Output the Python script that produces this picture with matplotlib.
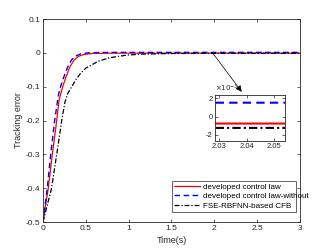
import matplotlib
matplotlib.use("Agg")
import matplotlib.pyplot as plt

plt.rcParams['font.family'] = ['Liberation Sans', 'DejaVu Sans']

# Data
t_red = [0, 0.03, 0.062, 0.085, 0.109, 0.135, 0.16, 0.187, 0.23, 0.27, 0.315, 0.36, 0.41, 0.47, 0.58, 0.8, 3.0]
e_red = [-0.5, -0.45, -0.4, -0.35, -0.3, -0.25, -0.2, -0.14, -0.1, -0.07, -0.041, -0.022, -0.011, -0.005, -0.0015, -0.0008, -0.00075]

t_blue = [0, 0.025, 0.05, 0.07, 0.09, 0.113, 0.136, 0.18, 0.205, 0.245, 0.29, 0.335, 0.385, 0.44, 0.52, 0.65, 0.9, 3.0]
e_blue = [-0.5, -0.45, -0.4, -0.35, -0.3, -0.25, -0.2, -0.125, -0.1, -0.07, -0.041, -0.02, -0.009, -0.003, 0.0, 0.0012, 0.0015, 0.00154]

t_black = [0, 0.05, 0.1, 0.13, 0.16, 0.19, 0.218, 0.257, 0.285, 0.335, 0.39, 0.44, 0.5, 0.587, 0.64, 0.78, 0.98, 1.17, 1.5, 2.0, 3.0]
e_black = [-0.5, -0.45, -0.4, -0.35, -0.3, -0.25, -0.2, -0.145, -0.122, -0.1, -0.077, -0.06, -0.045, -0.033, -0.025, -0.0143, -0.0065, -0.0035, -0.0018, -0.00125, -0.00125]

labels = ['developed control law', 'developed control law-without', 'FSE-RBFNN-based CFB']
x_ticks = [0, 0.5, 1, 1.5, 2, 2.5, 3]
y_ticks = [-0.5, -0.4, -0.3, -0.2, -0.1, 0, 0.1]
inset_x_ticks = [2.03, 2.04, 2.05]
inset_y_ticks = [-2e-3, 0, 2e-3]
inset_y_ticklabels = ['-2', '0', '2']

fig = plt.figure(figsize=(3.32, 2.49), dpi=100)
ax = fig.add_axes([0.1295, 0.1084, 0.774, 0.815])
ax.plot(t_red, e_red, color='#ff0000', lw=0.9, label=labels[0])
ax.plot(t_blue, e_blue, color='#0000ff', lw=1.0, ls=(0, (4, 2.5)), label=labels[1])
ax.plot(t_black, e_black, color='black', lw=0.9, ls=(0, (4, 1.5, 1, 1.5)), label=labels[2])
ax.set_xlim(0, 3)
ax.set_ylim(-0.5, 0.1)
ax.set_xticks(x_ticks)
ax.set_xticklabels(['0', '0.5', '1', '1.5', '2', '2.5', '3'])
ax.set_yticks(y_ticks)
ax.set_yticklabels(['-0.5', '-0.4', '-0.3', '-0.2', '-0.1', '0', '0.1'])
ax.tick_params(direction='in', length=2.5, width=0.5, labelsize=6, colors='#262626',
               top=True, right=True, pad=2)
for s in ax.spines.values():
    s.set_linewidth(0.6)
    s.set_color('#262626')
ax.set_xlabel('Time(s)', fontsize=6.5, color='#262626', labelpad=3)
ax.set_ylabel('Tracking error', fontsize=6.5, color='#262626', labelpad=2)

leg = ax.legend(loc='lower left', bbox_to_anchor=(0.518, 0.1474, 0.3735, 0.127),
                bbox_transform=fig.transFigure, mode='expand', fontsize=5.8,
                frameon=True, fancybox=False, edgecolor='#262626', framealpha=1,
                borderpad=0.3, handlelength=3.2, handletextpad=0.3, labelspacing=0.25,
                borderaxespad=0)
leg.get_frame().set_linewidth(0.5)

ax.annotate('', xy=(2.32, -0.115), xytext=(1.98, 0.0),
            arrowprops=dict(arrowstyle='-|>', color='black', lw=0.5,
                            mutation_scale=9, shrinkA=0, shrinkB=0))

axi = fig.add_axes([0.6485, 0.4349, 0.2108, 0.1847])
axi.plot(t_red, e_red, color='#ff0000', lw=1.5)
axi.plot(t_blue, e_blue, color='#0000ff', lw=1.5, ls=(0, (4, 2.5)))
axi.plot(t_black, e_black, color='black', lw=1.5, ls=(0, (4, 1.5, 1, 1.5)))
axi.set_xlim(2.0285, 2.054)
axi.set_ylim(-2.66e-3, 2.4e-3)
axi.set_xticks(inset_x_ticks)
axi.set_xticklabels(['2.03', '2.04', '2.05'])
axi.set_yticks(inset_y_ticks)
axi.set_yticklabels(inset_y_ticklabels)
axi.tick_params(direction='in', length=2, width=0.5, labelsize=5.5, colors='#262626',
                top=True, right=True, pad=2)
for s in axi.spines.values():
    s.set_linewidth(0.6)
    s.set_color('#262626')
axi.text(0.0, 1.01, r'$\times10^{-3}$', transform=axi.transAxes, fontsize=5,
         color='#262626', ha='left', va='bottom')

fig.savefig('out.png', dpi=100)
